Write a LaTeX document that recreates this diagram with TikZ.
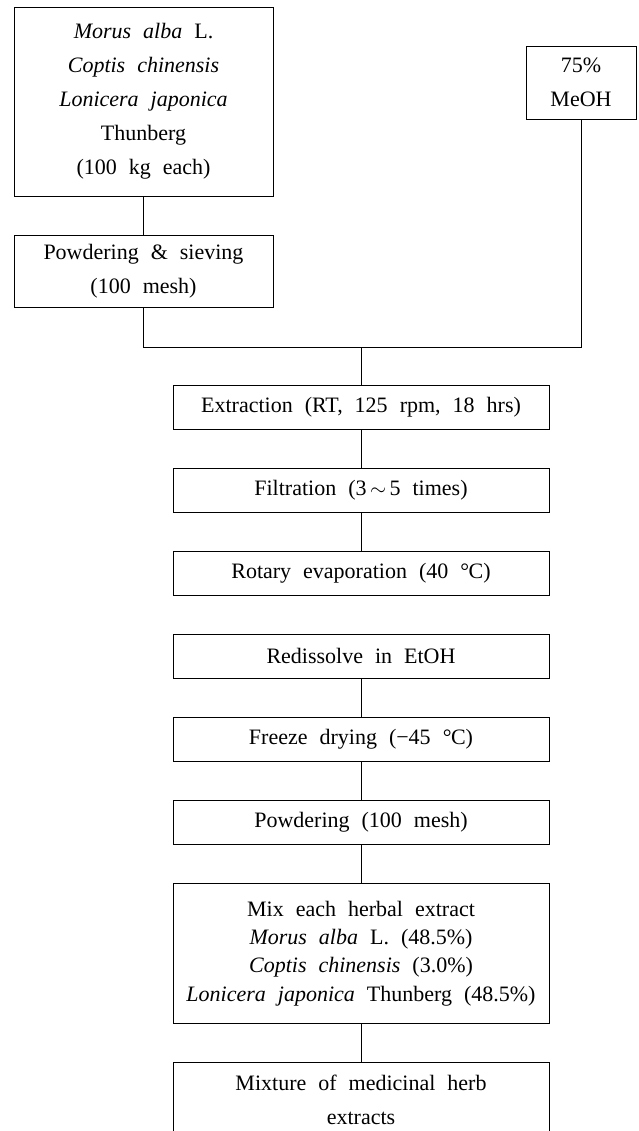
\documentclass[tikz,border=0pt]{standalone}
\usepackage{fontspec}
\setmainfont{Liberation Serif}
\newcommand{\degC}{°\kern-0.5pt C}
\newcommand{\boxfontA}{\fontsize{22}{34}\selectfont\spaceskip=12pt plus 2pt minus 1pt\relax}
\newcommand{\boxfontB}{\fontsize{22}{28.3}\selectfont\spaceskip=12pt plus 2pt minus 1pt\relax}
\tikzset{
  box/.style={draw, line width=0.9pt, rectangle, inner sep=0pt, align=center, font=\boxfontA},
  tightbox/.style={box, font=\boxfontB},
  link/.style={line width=0.9pt}
}
\begin{document}
\begin{tikzpicture}[x=1pt,y=-1pt]
\clip (0,0) rectangle (638,1131);
\node[box, minimum width=259, minimum height=189] (herbs) at (143.5,101.5)
  {\textit{Morus alba} L.\\ \textit{Coptis chinensis}\\ \textit{Lonicera japonica}\\ Thunberg\\ (100 kg each)};
\node[box, minimum width=110, minimum height=73] (meoh) at (581,82.5) {75\%\\ MeOH};
\node[box, minimum width=259, minimum height=72] (sieve) at (143.5,271) {Powdering \& sieving\\ (100 mesh)};
\coordinate (jl) at (143.5,347);
\coordinate (jm) at (361,347);
\coordinate (jr) at (581,347);
\node[box, minimum width=376, minimum height=43.5] (ext) at (361,407.5) {Extraction (RT, 125 rpm, 18 hrs)};
\node[box, minimum width=376, minimum height=44] (filt) at (361,490.3) {Filtration (3$\,\sim\,$5 times)};
\node[box, minimum width=376, minimum height=43.5] (rot) at (361,573.5) {Rotary evaporation (40 \degC)};
\node[box, minimum width=376, minimum height=43.5] (redis) at (361,656.2) {Redissolve in EtOH};
\node[box, minimum width=376, minimum height=43.5] (freeze) at (361,739.2) {Freeze drying (−45 \degC)};
\node[box, minimum width=376, minimum height=44] (powd) at (361,822) {Powdering (100 mesh)};
\node[tightbox, minimum width=376, minimum height=140] (mix) at (361,953.3)
  {Mix each herbal extract\\ \textit{Morus alba} L. (48.5\%)\\ \textit{Coptis chinensis} (3.0\%)\\ \textit{Lonicera japonica} Thunberg (48.5\%)};
\node[box, minimum width=376, minimum height=76] (final) at (361,1100.3) {Mixture of medicinal herb\\ extracts};
\draw[link] (herbs.south) -- (sieve.north);
\draw[link] (sieve.south) -- (jl) -- (jr) -- (meoh.south);
\draw[link] (jm) -- (ext.north);
\draw[link] (ext.south) -- (filt.north);
\draw[link] (filt.south) -- (rot.north);
\draw[link] (redis.south) -- (freeze.north);
\draw[link] (freeze.south) -- (powd.north);
\draw[link] (powd.south) -- (mix.north);
\draw[link] (mix.south) -- (final.north);
\end{tikzpicture}
\end{document}
